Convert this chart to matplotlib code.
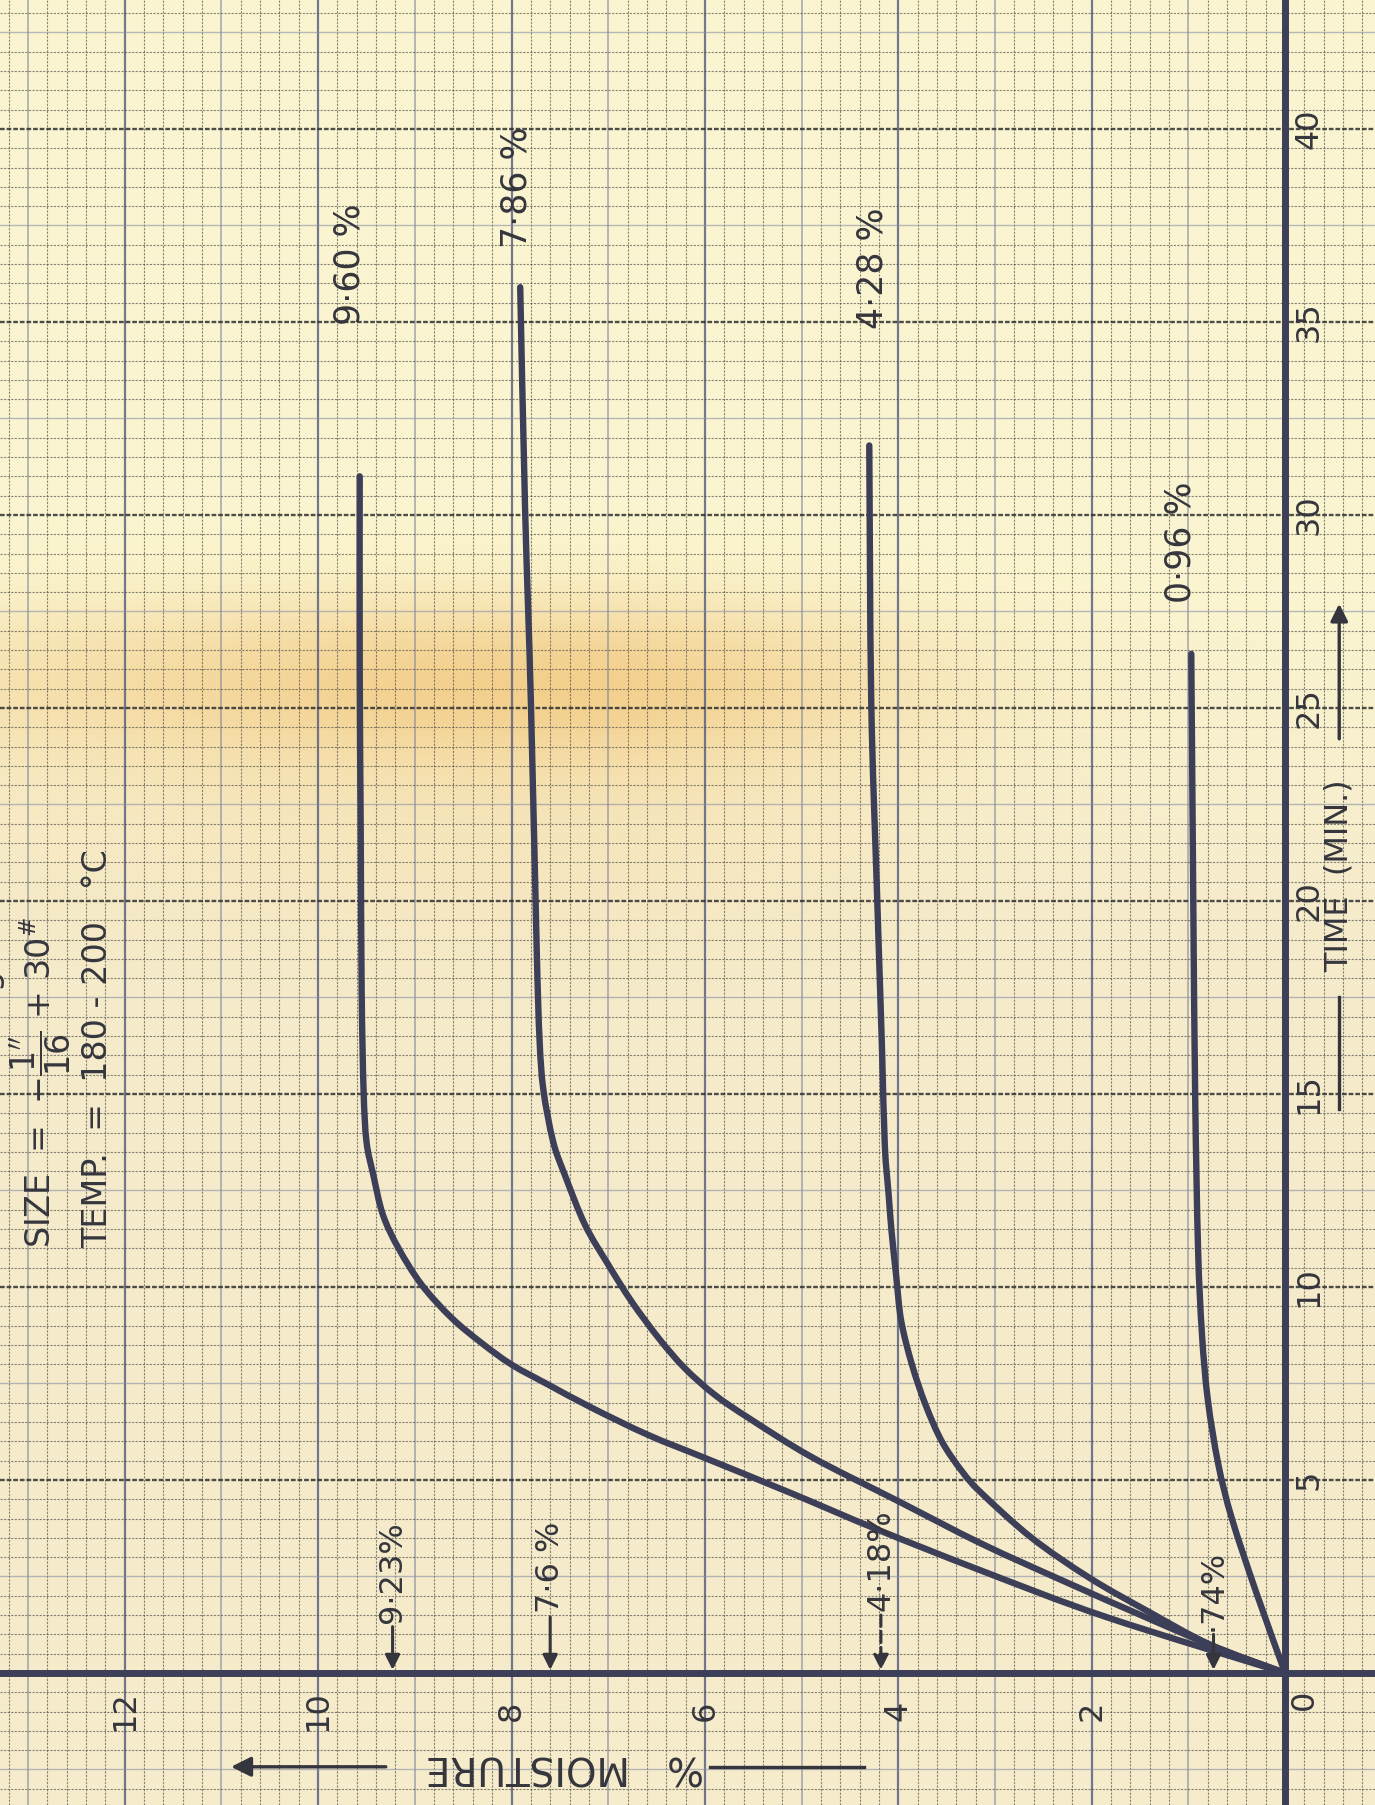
""" Moisture pick-up vs time, redrawn from a scanned graph sheet """

import matplotlib.pyplot as plt
import numpy as np
from matplotlib.path import Path
from matplotlib.patches import PathPatch

plt.rcParams['font.family'] = ['DejaVu Sans']

# data (time in min, moisture in %)

t_960 = [0, 1.45, 2.65, 3.72, 4.65, 5.57, 6.17, 6.87, 7.47, 7.99, 8.55, 9.2,
         10.06, 11.01, 11.87, 12.91, 13.77, 15.1, 17.7, 22.0, 26.0, 31.0]
m_960 = [0, 1.85, 3.14, 4.22, 5.10, 6.00, 6.59, 7.17, 7.62, 8.00, 8.31, 8.62,
         8.93, 9.17, 9.33, 9.43, 9.50, 9.53, 9.55, 9.56, 9.57, 9.57]

t_786 = [0, 0.65, 1.42, 2.37, 3.35, 4.45, 5.6, 6.61, 7.21, 7.90, 8.68, 9.63,
         10.58, 11.61, 12.91, 13.77, 15.1, 16.4, 18.8, 25.2, 30.2, 35.9]
m_786 = [0, 0.70, 1.42, 2.28, 3.14, 4.00, 4.90, 5.55, 5.90, 6.21, 6.48, 6.76,
         7.00, 7.24, 7.45, 7.57, 7.67, 7.71, 7.74, 7.80, 7.86, 7.91]

t_428 = [0, 0.73, 1.6, 2.46, 3.5, 4.66, 5.22, 6.0, 6.96, 8.0, 9.12, 10.24,
         11.45, 12.4, 13.7, 16.3, 20.2, 25.2, 31.8]
m_428 = [0, 0.77, 1.42, 2.02, 2.62, 3.14, 3.34, 3.55, 3.72, 3.86, 3.97, 4.02,
         4.07, 4.10, 4.14, 4.17, 4.22, 4.28, 4.30]

t_096 = [0, 2.1, 4.0, 5.4, 7.1, 8.8, 11.0, 15.0, 20.2, 26.4]
m_096 = [0, 0.30, 0.55, 0.69, 0.80, 0.86, 0.90, 0.93, 0.95, 0.97]

final_labels = ['9·60 %', '7·86 %', '4·28 %', '0·96 %']
initial_values = [9.23, 7.6, 4.18, 0.74]
initial_labels = ['9·23%', '7·6 %', '4·18%', '·74%']

time_ticks = [5, 10, 15, 20, 25, 30, 35, 40]
moisture_ticks = [2, 4, 6, 8, 10, 12]

# sheet geometry

M_LEFT, M_RIGHT = 13.29, -0.93
T_BOT, T_TOP = -3.42, 43.34
ink = '#3c3f57'
pen = '#35353d'


def french_curve(xs, ys):
    """ smooth pen stroke through the read points (Catmull-Rom as Bezier) """
    p = np.column_stack([xs, ys]).astype(float)
    n = len(p)
    verts, codes = [p[0]], [Path.MOVETO]
    for i in range(n - 1):
        p0 = p[max(i - 1, 0)]
        p1, p2 = p[i], p[i + 1]
        p3 = p[min(i + 2, n - 1)]
        verts += [p1 + (p2 - p0) / 6, p2 - (p3 - p1) / 6, p2]
        codes += [Path.CURVE4] * 3
    return Path(verts, codes)


fig = plt.figure(figsize=(13.75, 18.05), dpi=100)
ax = fig.add_axes([0, 0, 1, 1])
ax.set_axis_off()

# paper colour with the yellowed band

H, W = 460, 350
yy = np.linspace(T_TOP, T_BOT, H)[:, None]
xx = np.linspace(M_LEFT, M_RIGHT, W)[None, :]
top = np.array([251, 246, 209]) / 255
bot = np.array([246, 236, 204]) / 255
frac = np.clip((yy - 20) / 9, 0, 1)[..., None]
paper = bot * (1 - frac) + top * frac
sig = np.where(xx > 7.5, 6.5, 3.6)
horiz = np.exp(-((xx - 7.5) / sig) ** 2)
band = np.exp(-((yy - 25.7) / 2.2) ** 2) * horiz
band = band + 0.3 * np.exp(-((yy - 22.5) / 4.0) ** 2) * horiz
alpha = np.clip(0.85 * band, 0, 1)[..., None]
orange = np.array([243, 207, 140]) / 255
img = paper * (1 - alpha) + orange * alpha
ax.imshow(img, extent=(M_LEFT, M_RIGHT, T_BOT, T_TOP), origin='upper',
          aspect='auto', zorder=0, interpolation='bilinear')

# graph paper rulings

for i in range(-4, 67):
    v = i * 0.2
    if i % 10 == 0:
        ax.axvline(v, color='#5b6282', lw=1.6, alpha=0.85, zorder=1)
    elif i % 5 == 0:
        ax.axvline(v, color='#7d8299', lw=1.1, alpha=0.7, zorder=1)
    else:
        ax.axvline(v, color='#4a4a44', lw=0.8, ls=(0, (2, 1.2)), alpha=0.65, zorder=1)
for j in range(-6, 87):
    v = j * 0.5
    if j % 10 == 0:
        ax.axhline(v, color='#2f2f2f', lw=1.7, ls=(0, (2, 0.8)), alpha=0.85, zorder=1)
    elif j % 5 == 0:
        ax.axhline(v, color='#8a8fa6', lw=1.0, alpha=0.6, zorder=1)
    else:
        ax.axhline(v, color='#4a4a44', lw=0.8, ls=(0, (2, 1.2)), alpha=0.65, zorder=1)

# axes drawn on the sheet

ax.axvline(0, color=ink, lw=5, zorder=4)
ax.axhline(0, color=ink, lw=5, zorder=4)

# curves

for t, m in [(t_960, m_960), (t_786, m_786), (t_428, m_428), (t_096, m_096)]:
    ax.add_patch(PathPatch(french_curve(m, t), fill=False, edgecolor=ink,
                           lw=4.6, capstyle='round', joinstyle='round', zorder=5))

# final moisture labels

final_pos = [(9.68, 36.5), (7.95, 38.5), (4.27, 36.4), (1.08, 29.3)]
for (x, y), lab in zip(final_pos, final_labels):
    ax.text(x, y, lab, rotation=90, ha='center', va='center', fontsize=25,
            color=pen, zorder=6)

# initial moisture arrows

label_base = [1.3, 1.55, 1.6, 1.1]
for v, lab, b in zip(initial_values, initial_labels, label_base):
    ls = '--' if v == 4.18 else '-'
    ax.annotate('', xy=(v, 0.08), xytext=(v, b - 0.1),
                arrowprops=dict(arrowstyle='-|>', color=pen, lw=2.2, ls=ls,
                                mutation_scale=22, shrinkA=0, shrinkB=0),
                zorder=6)
    ax.text(v, b, lab, rotation=90, ha='center', va='bottom', fontsize=23,
            color=pen, zorder=6)

# tick labels

for tk in time_ticks:
    ax.text(-0.25, tk, str(tk), rotation=90, ha='center', va='center',
            fontsize=23, color=pen, zorder=6)
for mk in moisture_ticks:
    ax.text(mk, -0.98, str(mk), rotation=90, ha='center', va='center',
            fontsize=23, color=pen, zorder=6)
ax.text(-0.2, -0.7, '0', rotation=90, ha='center', va='center',
        fontsize=23, color=pen, zorder=6)

# axis titles with their arrows

ax.text(-0.56, 20.65, 'TIME  (MIN.)', rotation=90, ha='center', va='center',
        fontsize=23, color=pen, zorder=6)
ax.plot([-0.56, -0.56], [14.6, 17.5], color=pen, lw=2.4, zorder=6)
ax.annotate('', xy=(-0.56, 27.7), xytext=(-0.56, 24.2),
            arrowprops=dict(arrowstyle='-|>', color=pen, lw=2.4,
                            mutation_scale=26, shrinkA=0, shrinkB=0), zorder=6)

ax.text(7.45, -2.43, '%   MOISTURE', rotation=180, ha='center', va='center',
        fontsize=28, color=pen, zorder=6)
ax.plot([4.35, 5.95], [-2.43, -2.43], color=pen, lw=2.4, zorder=6)
ax.annotate('', xy=(10.9, -2.43), xytext=(9.3, -2.43),
            arrowprops=dict(arrowstyle='-|>', color=pen, lw=2.4,
                            mutation_scale=30, shrinkA=0, shrinkB=0), zorder=6)

# sample notes in the corner

ax.text(13.41, 10.96, 'WEIGHT  =  50 gm.  of  MIX', rotation=90, ha='center',
        va='bottom', fontsize=24, color=pen, zorder=6)
ax.text(12.87, 11.0, r'SIZE  =  $-\dfrac{1^{\prime\prime}}{16}$ + 30$^{\#}$',
        rotation=90, ha='center', va='bottom', fontsize=24, color=pen, zorder=6)
ax.text(12.28, 11.0, 'TEMP.  =  180 - 200   °C', rotation=90, ha='center',
        va='bottom', fontsize=24, color=pen, zorder=6)

ax.set_xlim(M_LEFT, M_RIGHT)
ax.set_ylim(T_BOT, T_TOP)

plt.savefig('out.png', dpi=100)
